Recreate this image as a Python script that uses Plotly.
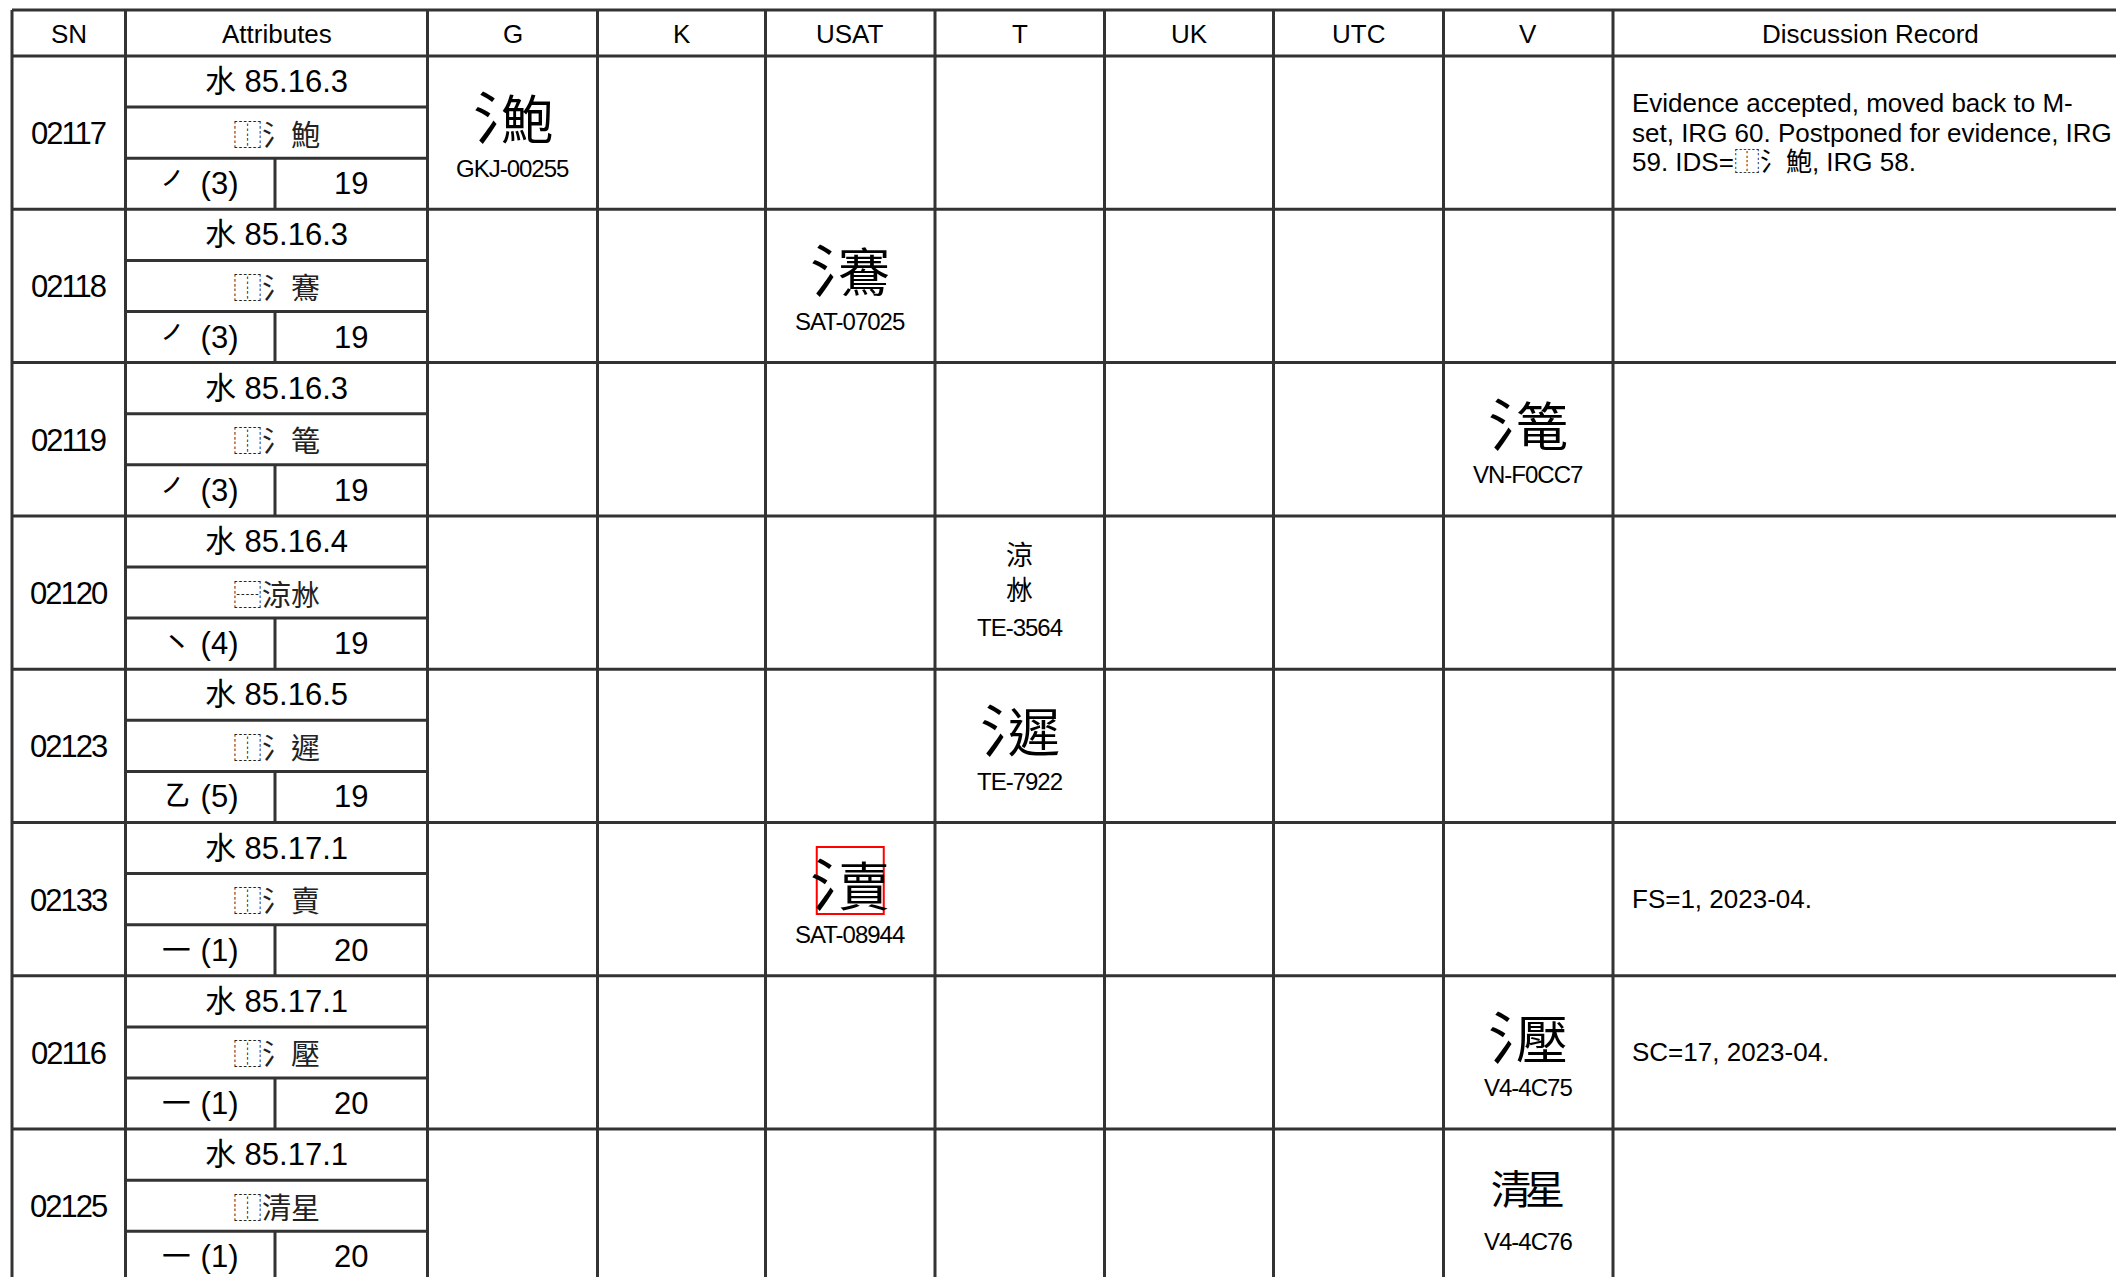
import plotly.graph_objects as go

# ---------------- data ----------------
headers = ["SN", "Attributes", "G", "K", "USAT", "T", "UK", "UTC", "V", "Discussion Record"]
sn = ["02117", "02118", "02119", "02120", "02123", "02133", "02116", "02125"]
radical = ["水 85.16.3", "水 85.16.3", "水 85.16.3", "水 85.16.4",
           "水 85.16.5", "水 85.17.1", "水 85.17.1", "水 85.17.1"]
ids = ["⿰氵鮑", "⿰氵鶱", "⿰氵篭", "⿱涼沝", "⿰氵遲", "⿰氵賣", "⿰氵壓", "⿰清星"]
first_stroke = ["㇒ (3)", "㇒ (3)", "㇒ (3)", "㇔ (4)", "㇠ (5)", "㇐ (1)", "㇐ (1)", "㇐ (1)"]
total_strokes = ["19", "19", "19", "19", "19", "20", "20", "20"]
source_column = ["G", "USAT", "V", "T", "T", "USAT", "V", "V"]
source_ref = ["GKJ-00255", "SAT-07025", "VN-F0CC7", "TE-3564",
              "TE-7922", "SAT-08944", "V4-4C75", "V4-4C76"]
flagged = ["02133"]
discussion = [
    ["Evidence accepted, moved back to M-",
     "set, IRG 60. Postponed for evidence, IRG",
     "59. IDS=⿰氵鮑, IRG 58."],
    [], [], [], [],
    ["FS=1, 2023-04."],
    ["SC=17, 2023-04."],
    [],
]

# ---------------- layout constants ----------------
W, H = 2116, 1277
col_edges = [12, 125.5, 427.5, 597.5, 765.5, 935, 1104.5, 1273.5, 1443.5, 1613, 2127]
attr_split = 275
head_top, head_bot = 10, 56
row_h = 153.3
line_col = "#333333"
lw = 3

LAT = "Liberation Sans, Arial, sans-serif"
CJK = "Noto Sans CJK TC, Noto Sans CJK SC, sans-serif"
MIX = "Liberation Sans, Noto Sans CJK TC, sans-serif"

fig = go.Figure()
shapes = []
ann = []


def hline(y, x0, x1):
    shapes.append(dict(type="line", xref="x", yref="y", x0=x0, x1=x1, y0=y, y1=y,
                       line=dict(color=line_col, width=lw)))


def vline(x, y0, y1):
    shapes.append(dict(type="line", xref="x", yref="y", x0=x, x1=x, y0=y0, y1=y1,
                       line=dict(color=line_col, width=lw)))


def text(x, y, s, size, family, xanchor="center", color="#000000"):
    ann.append(dict(x=x, y=y, xref="x", yref="y", text=s, showarrow=False,
                    xanchor=xanchor, yanchor="middle", align="center",
                    font=dict(size=size, family=family, color=color)))


def condensed(s, spacing):
    return f'<span style="letter-spacing:{spacing}px">{s}</span>'


def compose_glyph(desc):
    """Build the text of a glyph from its ideographic description.
    Returns (text, font size, vertical shift)."""
    op, p1, p2 = desc[0], desc[1], desc[2]
    if op == "⿱":
        return f"{p1}<br>{p2}", 27, -3
    if p1 == "氵":
        return (f'<span style="letter-spacing:-30px">{p1}</span>'
                f'<span style="font-size:52px">{p2}</span>'), 58, 0
    return (f'<span style="letter-spacing:-6px">{p1}</span>{p2}'), 40, 0


n = len(sn)
table_bottom = head_bot + row_h * n

# grid
hline(head_top, col_edges[0], col_edges[-1])
hline(head_bot, col_edges[0], col_edges[-1])
for i in range(n):
    hline(head_bot + row_h * (i + 1), col_edges[0], col_edges[-1])
for x in col_edges:
    vline(x, head_top, table_bottom)

# header
for j, h in enumerate(headers):
    cx = (col_edges[j] + col_edges[j + 1]) / 2
    text(cx, (head_top + head_bot) / 2 + 1, h, 26, LAT)

col_index = {h: j for j, h in enumerate(headers)}

for i in range(n):
    top = head_bot + row_h * i
    # SN
    text((col_edges[0] + col_edges[1]) / 2, top + row_h / 2 + 1, condensed(sn[i], -2), 31, LAT)
    # attributes sub-lines
    a0, a1 = col_edges[1], col_edges[2]
    hline(top + row_h / 3, a0, a1)
    hline(top + 2 * row_h / 3, a0, a1)
    vline(attr_split, top + 2 * row_h / 3, top + row_h)
    acx = (a0 + a1) / 2
    text(acx, top + row_h / 6, radical[i], 31, MIX)
    text(acx, top + row_h / 2, ids[i], 29, CJK, color="#222222")
    text((a0 + attr_split) / 2, top + 5 * row_h / 6, first_stroke[i], 31, MIX)
    text((attr_split + a1) / 2, top + 5 * row_h / 6, total_strokes[i], 31, LAT)

    # source glyph (composed from its IDS) and reference
    j = col_index[source_column[i]]
    cx = (col_edges[j] + col_edges[j + 1]) / 2
    gy = top + 58
    gtxt, gsize, gshift = compose_glyph(ids[i])
    text(cx, gy + gshift, gtxt, gsize, CJK)
    text(cx, top + 112, condensed(source_ref[i], -1), 24, LAT)
    if sn[i] in flagged:
        shapes.append(dict(type="rect", xref="x", yref="y",
                           x0=cx - 33.5, x1=cx + 33.5, y0=gy - 33.5, y1=gy + 33.5,
                           line=dict(color="#ff0000", width=2)))

    # discussion record
    lines = discussion[i]
    k = len(lines)
    for m, ln in enumerate(lines):
        y = top + row_h / 2 + (m - (k - 1) / 2) * 29.7
        text(col_edges[9] + 17, y, ln, 26, MIX, xanchor="left")

fig.update_layout(
    width=W, height=H, autosize=False,
    margin=dict(l=0, r=0, t=0, b=0, pad=0),
    paper_bgcolor="white", plot_bgcolor="white",
    xaxis=dict(range=[0, W], visible=False, fixedrange=True),
    yaxis=dict(range=[H, 0], visible=False, fixedrange=True),
    shapes=shapes, annotations=ann, showlegend=False,
)

fig.write_html("out.html", config={"displayModeBar": False},
               post_script="document.body.style.margin='0px';document.body.style.overflow='hidden';")
